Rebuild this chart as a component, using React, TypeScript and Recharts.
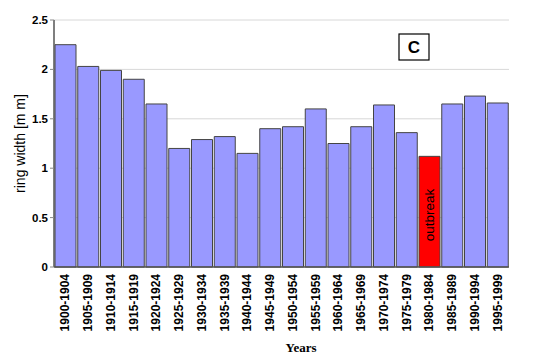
import {
  Bar,
  BarChart,
  CartesianGrid,
  Cell,
  XAxis,
  YAxis,
} from "recharts";

const periods = [
  "1900-1904", "1905-1909", "1910-1914", "1915-1919", "1920-1924",
  "1925-1929", "1930-1934", "1935-1939", "1940-1944", "1945-1949",
  "1950-1954", "1955-1959", "1960-1964", "1965-1969", "1970-1974",
  "1975-1979", "1980-1984", "1985-1989", "1990-1994", "1995-1999",
];

const ringWidth = [
  2.25, 2.03, 1.99, 1.9, 1.65, 1.2, 1.29, 1.32, 1.15, 1.4,
  1.42, 1.6, 1.25, 1.42, 1.64, 1.36, 1.12, 1.65, 1.73, 1.66,
];

const outbreakPeriod = "1980-1984";
const yTicks = [0, 0.5, 1, 1.5, 2, 2.5];

const data = periods.map((p, i) => ({ period: p, width: ringWidth[i] }));

const FONT = "Arial, 'Liberation Sans', sans-serif";

function PeriodTick({ x, y, payload }: any) {
  const ty = y - 1;
  return (
    <text
      x={x}
      y={ty}
      transform={`rotate(-90, ${x}, ${ty})`}
      textAnchor="end"
      dominantBaseline="central"
      fontFamily={FONT}
      fontSize={12}
      fontWeight="bold"
      fill="#000"
    >
      {payload.value}
    </text>
  );
}

function OutbreakLabel({ x, y, width, height, index }: any) {
  if (periods[index] !== outbreakPeriod) return null;
  const cx = x + width / 2;
  const cy = y + height * 0.53;
  return (
    <text
      x={cx}
      y={cy}
      transform={`rotate(-90, ${cx}, ${cy})`}
      textAnchor="middle"
      dominantBaseline="central"
      fontFamily={FONT}
      fontSize={13.5}
      fill="#000"
    >
      outbreak
    </text>
  );
}

export default function App() {
  return (
    <div style={{ position: "absolute", left: 0, top: 0, width: 540, height: 357, background: "#fff" }}>
      <BarChart
        width={540}
        height={357}
        data={data}
        margin={{ top: 20, right: 31, left: 24, bottom: 20 }}
        barCategoryGap={1}
      >
        <CartesianGrid vertical={false} stroke="#d8d8d8" />
        <XAxis
          dataKey="period"
          interval={0}
          height={70}
          tick={<PeriodTick />}
          tickLine={false}
          axisLine={{ stroke: "#555", strokeWidth: 1.5 }}
        />
        <YAxis
          domain={[0, 2.5]}
          ticks={yTicks}
          width={30}
          tickSize={4}
          tick={{ fontFamily: FONT, fontSize: 11.5, fontWeight: "bold", fill: "#000" }}
          tickLine={{ stroke: "#888" }}
          axisLine={{ stroke: "#555", strokeWidth: 1.5 }}
        />
        <YAxis
          yAxisId="frame"
          orientation="right"
          domain={[0, 2.5]}
          width={0}
          tick={false}
          tickLine={false}
          axisLine={{ stroke: "#c8c8c8" }}
        />
        <Bar
          dataKey="width"
          stroke="#444"
          strokeWidth={1}
          isAnimationActive={false}
          label={<OutbreakLabel />}
        >
          {data.map((d) => (
            <Cell key={d.period} fill={d.period === outbreakPeriod ? "#ff0000" : "#9999ff"} />
          ))}
        </Bar>
        <text
          x={20}
          y={143.5}
          transform="rotate(-90, 20, 143.5)"
          textAnchor="middle"
          dominantBaseline="central"
          fontFamily={FONT}
          fontSize={14}
          fill="#000"
        >
          ring width [m m]
        </text>
        <text
          x={301}
          y={347}
          textAnchor="middle"
          dominantBaseline="central"
          fontFamily="'Times New Roman', 'Liberation Serif', serif"
          fontSize={13}
          fontWeight="bold"
          fill="#000"
        >
          Years
        </text>
        <g>
          <rect x={399} y={34} width={30} height={26} fill="#fff" stroke="#000" strokeWidth={1.2} />
          <text
            x={414}
            y={47.5}
            textAnchor="middle"
            dominantBaseline="central"
            fontFamily={FONT}
            fontSize={17}
            fontWeight="bold"
            fill="#000"
          >
            C
          </text>
        </g>
      </BarChart>
    </div>
  );
}
